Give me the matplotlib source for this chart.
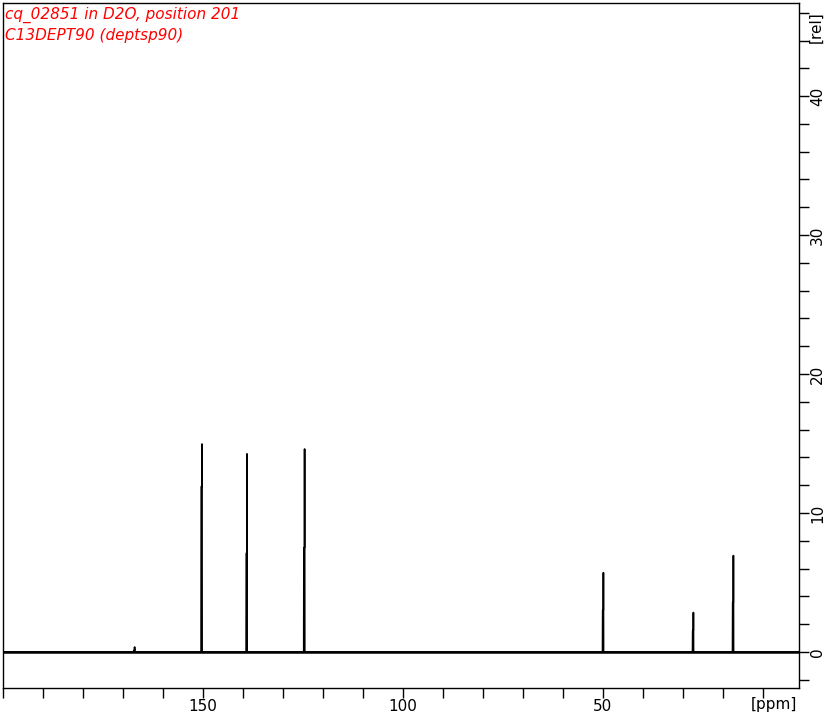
import numpy as np
import matplotlib.pyplot as plt
from matplotlib.ticker import MultipleLocator

# peaks: position, top point, neighbouring point
peak_ppm = [167.1, 150.25, 139.0, 124.6, 49.9, 27.4, 17.4]
peak_top = [0.35, 14.96, 14.25, 14.6, 5.7, 2.83, 6.93]
peak_side = [0.1, 11.9, 7.1, 7.5, 3.0, 1.53, 3.55]

title_lines = ["cq_02851 in D2O, position 201", "C13DEPT90 (deptsp90)"]
x_ticks = [200, 150, 100, 50]
x_ticklabels = ["", "150", "100", "50"]
y_ticks = [0, 10, 20, 30, 40]

ppm = np.arange(200.0, 0.99, -0.02)
intensity = np.zeros_like(ppm)
for p, top, side in zip(peak_ppm, peak_top, peak_side):
    i = np.argmin(np.abs(ppm - p))
    intensity[i] = top
    intensity[i - 10:i] = side

fig = plt.figure(figsize=(8.3, 7.17), dpi=100)
ax = fig.add_axes([3 / 830, 1 - 688 / 717, 796 / 830, 685 / 717])

ax.plot(ppm, intensity, color="black", lw=1.2)
ax.axhline(0, color="black", lw=1.8, zorder=1)
ax.set_xlim(200, 1)
ax.set_ylim(-2.6, 46.7)

ax.set_xticks(x_ticks)
ax.set_xticklabels(x_ticklabels)
ax.xaxis.set_minor_locator(MultipleLocator(10))
ax.yaxis.tick_right()
ax.set_yticks(y_ticks)
ax.yaxis.set_minor_locator(MultipleLocator(2))
ax.tick_params(axis="both", which="both", length=7, width=1, labelsize=11)
ax.tick_params(axis="x", pad=1)
ax.tick_params(axis="y", pad=1)
for lab in ax.get_yticklabels():
    lab.set_rotation(90)
    lab.set_va("center")
for s in ax.spines.values():
    s.set_linewidth(1)

ax.text(0.9975, -0.0248, "[ppm]", transform=ax.transAxes, ha="right", va="center",
        fontsize=11)
ax.text(1.021, 0.965, "[rel]", transform=ax.transAxes, ha="center", va="center",
        rotation=90, fontsize=11)

for k, line in enumerate(title_lines):
    ax.text(0.003, 0.982 - k * 0.03, line, transform=ax.transAxes, color="red",
            fontsize=11, style="italic", ha="left", va="center")

fig.savefig("out.png", dpi=100)
